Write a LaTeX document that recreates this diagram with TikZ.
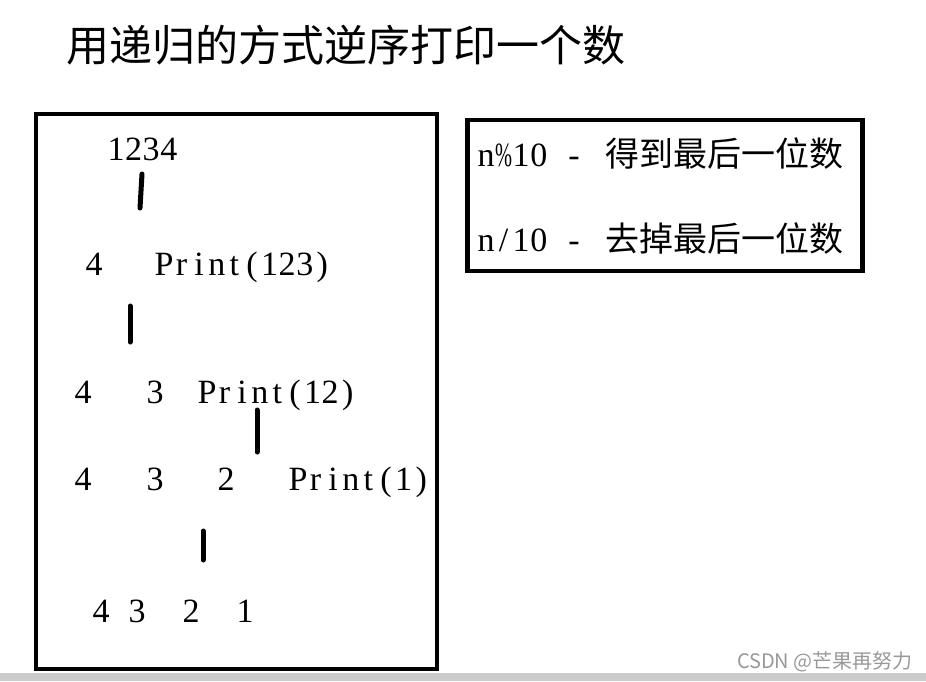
\documentclass[tikz,border=0pt]{standalone}
\usepackage{fontspec}
\usepackage{graphicx}
\newfontfamily\cjk{Noto Sans CJK SC}
\newfontfamily\lat{Liberation Serif}
\ExplSyntaxOn
\NewDocumentCommand\mono{m}{\tl_map_inline:nn{#1}{\makebox[17.6pt][c]{##1}}}
\ExplSyntaxOff
\newcommand\narrowpct{\scalebox{0.6}[1]{\%}}
\tikzset{
  box/.style={draw=black,line width=4.5pt},
  stroke/.style={line width=5pt,line cap=round},
  num/.style={inner sep=0pt,anchor=base west,font=\lat\fontsize{34}{38}\selectfont},
  cj/.style={inner sep=0pt,anchor=base west,font=\cjk\fontsize{34}{38}\selectfont},
}
\begin{document}
\begin{tikzpicture}[x=1pt,y=-1pt]
\useasboundingbox (0,0) rectangle (926,681);
\fill[white] (0,0) rectangle (926,681);
% title
\node[inner sep=0pt,anchor=west,font=\cjk\fontsize{43}{46}\selectfont] (title) at (66,45) {用递归的方式逆序打印一个数};
% boxes
\draw[box] (36,114) rectangle (437,669);
\draw[box] (467.5,120) rectangle (862.5,271);
% left box text
\node[num] (n1234) at (107,160) {\mono{1234}};
\node[num] (r2a) at (85,275) {\mono{4}};
\node[num] (p123) at (155,275) {\mono{Print(123)}};
\node[num] (r3a) at (74,403) {\mono{4}};
\node[num] (r3b) at (146,403) {\mono{3}};
\node[num] (p12) at (198,403) {\mono{Print(12)}};
\node[num] (r4a) at (74,490) {\mono{4}};
\node[num] (r4b) at (146,490) {\mono{3}};
\node[num] (r4c) at (217,490) {\mono{2}};
\node[num] (p1) at (289,490) {\mono{Print(1)}};
\node[num] (r5a) at (92,622) {\mono{4}};
\node[num] (r5b) at (128,622) {\mono{3}};
\node[num] (r5c) at (182,622) {\mono{2}};
\node[num] (r5d) at (236,622) {\mono{1}};
% strokes
\coordinate (s1a) at (142,174); \coordinate (s1b) at (140,208);
\coordinate (s2a) at (130,306); \coordinate (s2b) at (130,342);
\coordinate (s3a) at (257,410); \coordinate (s3b) at (257,452);
\coordinate (s4a) at (203,531); \coordinate (s4b) at (203,560);
\draw[stroke] (s1a) -- (s1b);
\draw[stroke] (s2a) -- (s2b);
\draw[stroke] (s3a) -- (s3b);
\draw[stroke] (s4a) -- (s4b);
% right box text
\node[num] (mod) at (477,166) {\mono{n\narrowpct10}\hspace{17.6pt}\mono{-}};
\node[cj] (modt) at (605,166) {得到最后一位数};
\node[num] (div) at (477,251) {\mono{n/10}\hspace{17.6pt}\mono{-}};
\node[cj] (divt) at (605,251) {去掉最后一位数};
% bottom bar and watermark
\fill[black!20] (0,673) rectangle (926,681);
\node[inner sep=0pt,anchor=east,text=black!40,font=\cjk\fontsize{20}{22}\selectfont] (wm) at (913,662) {CSDN @芒果再努力};
\end{tikzpicture}
\end{document}
